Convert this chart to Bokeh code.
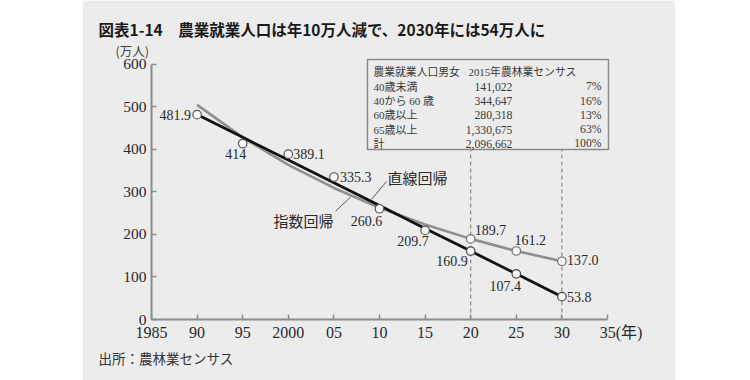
from bokeh.plotting import figure
from bokeh.models import Spacer, FixedTicker, Title
from bokeh.layouts import row
from bokeh.embed import file_html
from bokeh.resources import INLINE
from bokeh.core.properties import value

# ---------------- data ----------------
years_obs = [1990, 1995, 2000, 2005, 2010, 2015]
employed_obs = [481.9, 414.0, 389.1, 335.3, 260.6, 209.7]
years_proj = [2020, 2025, 2030]
linear_proj = [160.9, 107.4, 53.8]
exp_proj = [189.7, 161.2, 137.0]
fit_years = [1990, 1995, 2000, 2005, 2010, 2015, 2020, 2025, 2030]
linear_fit = [482.2, 428.6, 375.1, 321.5, 268.0, 214.4, 160.9, 107.4, 53.8]
exp_fit = [505.0, 428.5, 364.0, 309.5, 263.0, 223.5, 189.7, 161.2, 137.0]
marker_years = [2020, 2030]

x_ticks = [1985, 1990, 1995, 2000, 2005, 2010, 2015, 2020, 2025, 2030, 2035]
x_tick_labels = ["1985", "90", "95", "2000", "05", "10", "15", "20", "25", "30",
                 "\u3000\u2002\u200935(年)"]
y_ticks = [0, 100, 200, 300, 400, 500, 600]

table_header = ["農業就業人口男女", "2015年農林業センサス"]
table_groups = ["40歳未満", "40から 60 歳", "60歳以上", "65歳以上", "計"]
table_counts = ["141,022", "344,647", "280,318", "1,330,675", "2,096,662"]
table_shares = ["7%", "16%", "13%", "63%", "100%"]

title_text = "図表1-14　農業就業人口は年10万人減で、2030年には54万人に"
unit_text = "(万人)"
source_text = "出所：農林業センサス"
linear_name = "直線回帰"
exp_name = "指数回帰"

# ---------------- style ----------------
BG = "#ececec"
AX = "#8c8c8c"
TXT = "#2a2a2a"
SERIF = value("Liberation Serif, Noto Sans CJK JP")
GOTHIC = value("Noto Sans CJK JP")

p = figure(width=593, height=380, x_range=(1985, 2035.33), y_range=(0, 616.47),
           output_backend="svg", toolbar_location=None,
           min_border_left=69, min_border_right=65, min_border_top=57, min_border_bottom=61,
           background_fill_color=BG, border_fill_color=BG, outline_line_color=None)
p.grid.visible = False

for ax, ticks in ((p.xaxis, x_ticks), (p.yaxis, y_ticks)):
    ax.ticker = FixedTicker(ticks=ticks)
    ax.axis_line_color = AX
    ax.axis_line_width = 2
    ax.major_tick_line_color = AX
    ax.major_tick_line_width = 1.5
    ax.major_tick_in = 5
    ax.major_tick_out = 0
    ax.minor_tick_line_color = None
    ax.major_label_text_font = "Liberation Serif, Noto Sans CJK JP"
    ax.major_label_text_color = TXT
p.xaxis.bounds = (1985, 2035)
p.yaxis.bounds = (0, 600)
p.xaxis.major_label_overrides = {t: l for t, l in zip(x_ticks, x_tick_labels)}
p.xaxis.major_label_text_font_size = "16px"
p.yaxis.major_label_text_font_size = "15.5px"
p.xaxis.major_label_standoff = 4
p.yaxis.major_label_standoff = 5

# dashed guides and table box
p.segment(x0=marker_years, y0=[0, 0], x1=marker_years, y1=[400, 400],
          line_color="#8a8a8a", line_width=1.2, line_dash="4 3")
p.quad(left=[2008.68], right=[2035.11], bottom=[400], top=[611.8],
       fill_color=BG, line_color="#8a8a8a", line_width=1.5)

# regression lines
p.line(fit_years, exp_fit, line_color="#8f8f8f", line_width=2.6)
p.line(fit_years, linear_fit, line_color="#111111", line_width=2.8)

# leader lines
p.segment(x0=[2009.12, 2005.18], y0=[282.4, 254.8], x1=[2010.77, 2006.82], y1=[324.7, 287.8],
          line_color="#555555", line_width=1)

# markers
p.scatter(years_obs, employed_obs, size=8.5, fill_color="#f6f6f6", line_color="#555555", line_width=1.2)
p.scatter(years_proj, linear_proj, size=8.5, fill_color="#f6f6f6", line_color="#444444", line_width=1.2)
p.scatter(years_proj, exp_proj, size=8.5, fill_color="#f6f6f6", line_color="#6e6e6e", line_width=1.2)

# point labels
obs_text = ["481.9", "414", "389.1", "335.3", "260.6", "209.7"]
p.text(years_obs, employed_obs, text=obs_text,
       x_offset=[-6, -7, 5, 6, -13, -12], y_offset=[0, 10, 0, 0, 12.5, 11],
       text_align=["right", "center", "left", "left", "center", "center"],
       text_baseline="middle", text_font=SERIF, text_font_size="14px", text_color=TXT)

lin_text = [f"{v:.1f}" for v in linear_proj]
p.text(years_proj, linear_proj, text=lin_text, x_offset=[-3, -11, 5], y_offset=[9.5, 12.6, 0.5],
       text_align=["right", "center", "left"], text_baseline="middle", text_font=SERIF,
       text_font_size="14px", text_color=TXT)

exp_text = [f"{v:.1f}" for v in exp_proj]
p.text(years_proj, exp_proj, text=exp_text, x_offset=[4, 14, 5], y_offset=[-9, -10.5, -1.5],
       text_align=["left", "center", "left"], text_baseline="middle", text_font=SERIF,
       text_font_size="14px", text_color=TXT)

# regression names
p.text([2010.88], [334.8], text=[linear_name], text_align="left", text_baseline="middle",
       text_font=GOTHIC, text_font_size="15px", text_color=TXT)
p.text([1998.38], [232.9], text=[exp_name], text_align="left", text_baseline="middle",
       text_font=GOTHIC, text_font_size="15px", text_color=TXT)

# table
row_px = 14.3
ppu = 0.425
header_y = 581.2
rows_y = [header_y - (i + 1) * row_px / ppu for i in range(len(table_groups))]
TCOL = "#3a3a3a"
p.text([2009.34], [header_y], text=[table_header[0]], text_align="left", text_baseline="middle",
       text_font=SERIF, text_font_size="10.8px", text_color=TCOL)
p.text([2019.76], [header_y], text=[table_header[1]], text_align="left", text_baseline="middle",
       text_font=SERIF, text_font_size="10.8px", text_color=TCOL)
p.text([2009.34] * 5, rows_y, text=table_groups, text_align="left", text_baseline="middle",
       text_font=SERIF, text_font_size="11px", text_color=TCOL)
p.text([2024.58] * 5, rows_y, text=table_counts, text_align="right", text_baseline="middle",
       text_font=SERIF, text_font_size="11.7px", text_color=TCOL)
p.text([2034.34] * 5, rows_y, text=table_shares, text_align="right", text_baseline="middle",
       text_font=SERIF, text_font_size="11.7px", text_color=TCOL)

# texts outside the frame (side panels)
p.add_layout(Title(text=unit_text, align="left", offset=-36, standoff=-6, vertical_align="middle",
                   text_font="Noto Sans CJK JP", text_font_style="normal", text_font_size="12.5px",
                   text_color="#444444"), "above")
p.add_layout(Title(text=title_text, align="left", offset=-53, standoff=3, vertical_align="middle",
                   text_font="Noto Sans CJK JP", text_font_style="bold", text_font_size="15.5px",
                   text_color="#1a1a1a"), "above")
p.add_layout(Title(text=source_text, align="left", offset=-53, standoff=7, vertical_align="middle",
                   text_font="Noto Sans CJK JP", text_font_style="normal", text_font_size="13.5px",
                   text_color="#333333"), "below")

layout = row(Spacer(width=82, height=380), p)
html = file_html(layout, INLINE)
html = html.replace("<body>", '<body style="background-color:#f2f2f2;">', 1)
open("out.html", "w").write(html)
